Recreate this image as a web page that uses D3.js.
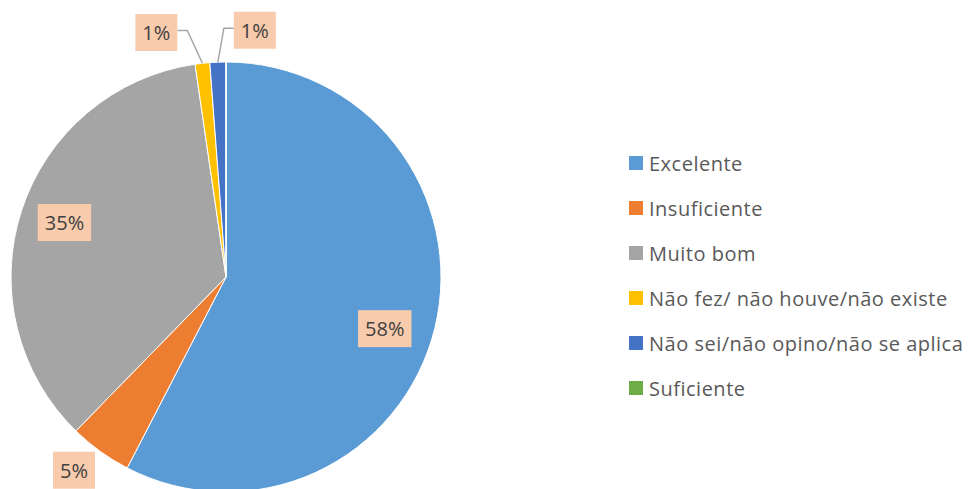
<!DOCTYPE html>
<html>
<head>
<meta charset="utf-8">
<style>
  body { margin: 0; background: #fff; }
  text { font-family: "Open Sans", sans-serif; }
</style>
</head>
<body>
<div id="vis"></div>
<script src="https://d3js.org/d3.v7.min.js"></script>
<script>
    // data
    let categories = ["Excelente", "Insuficiente", "Muito bom",
        "Não fez/ não houve/não existe", "Não sei/não opino/não se aplica", "Suficiente"];
    let values = [57.6, 4.7, 35.4, 1.1, 1.2, 0];
    let labels = ["58%", "5%", "35%", "1%", "1%", ""];
    let colors = ["#5B9BD5", "#ED7D31", "#A5A5A5", "#FFC000", "#4472C4", "#70AD47"];

    let width = 969, height = 489;
    let cx = 226, cy = 277, radius = 215;

    let svg = d3.select("#vis")
        .append("svg")
        .attr("width", width)
        .attr("height", height);

    let data = categories.map(function (c, i) {
        return {name: c, value: values[i], label: labels[i], color: colors[i]};
    });

    let pie = d3.pie().sort(null).value(function (d) { return d.value; });
    let arc = d3.arc().innerRadius(0).outerRadius(radius);
    let arcs = pie(data);

    let g = svg.append("g")
        .attr("transform", "translate(" + cx + "," + cy + ")");

    g.selectAll("path")
        .data(arcs)
        .enter()
        .append("path")
        .attr("d", arc)
        .attr("fill", function (d) { return d.data.color; })
        .attr("stroke", "#fff")
        .attr("stroke-width", 1);

    // label placement: radius factor along mid angle + small nudge
    let labelLayout = [
        {f: 0.76, dx: 0, dy: 13},
        {f: 1.2, dx: -1, dy: -16},
        {f: 0.79, dx: 0, dy: -2},
        {f: 1.13, dx: -43, dy: -3, lead: true},
        {f: 1.13, dx: 38, dy: -4, lead: true},
        null
    ];

    function polar(a, r) {
        return [r * Math.sin(a), -r * Math.cos(a)];
    }

    arcs.forEach(function (d, i) {
        let lay = labelLayout[i];
        if (!lay || !d.data.label) return;
        let mid = (d.startAngle + d.endAngle) / 2;
        let p = polar(mid, radius * lay.f);
        let x = p[0] + lay.dx, y = p[1] + lay.dy;

        let lg = g.append("g");
        let t = lg.append("text")
            .attr("x", x)
            .attr("y", y)
            .attr("text-anchor", "middle")
            .attr("dominant-baseline", "central")
            .attr("font-size", "20px")
            .attr("fill", "#404040")
            .text(d.data.label);
        let bb = t.node().getBBox();
        let bw = bb.width + 14, bh = 37;
        lg.insert("rect", "text")
            .attr("x", x - bw / 2)
            .attr("y", y - bh / 2)
            .attr("width", bw)
            .attr("height", bh)
            .attr("fill", "#F8CBAD");

        if (lay.lead) {
            let e = polar(mid, radius);
            let side = lay.dx < 0 ? 1 : -1;
            let bx = x + side * bw / 2;
            let kx = bx + side * 10;
            g.insert("polyline", "g")
                .attr("points", [[e[0], e[1]], [kx, y - 2], [bx, y - 2]].map(function (q) { return q.join(","); }).join(" "))
                .attr("fill", "none")
                .attr("stroke", "#A6A6A6")
                .attr("stroke-width", 1.5);
        }
    });

    // legend
    let legend = svg.append("g")
        .attr("transform", "translate(629,163)");

    let rows = legend.selectAll("g")
        .data(data)
        .enter()
        .append("g")
        .attr("transform", function (d, i) { return "translate(0," + (i * 45) + ")"; });

    rows.append("rect")
        .attr("x", 0)
        .attr("y", -7)
        .attr("width", 14)
        .attr("height", 14)
        .attr("fill", function (d) { return d.color; });

    rows.append("text")
        .attr("x", 20)
        .attr("y", 0)
        .attr("dominant-baseline", "central")
        .attr("font-size", "20px")
        .attr("letter-spacing", "0.5px")
        .attr("fill", "#595959")
        .text(function (d) { return d.name; });
</script>
</body>
</html>
